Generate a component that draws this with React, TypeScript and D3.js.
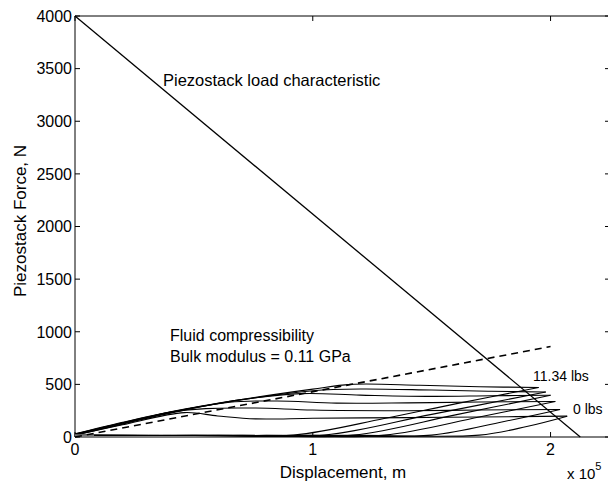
import React from "react";
import * as d3 from "d3";

// ---- data ----
const xTicks = [0, 1, 2];
const yTicks = [0, 500, 1000, 1500, 2000, 2500, 3000, 3500, 4000];

// piezostack load characteristic (straight line)
const loadX = [0, 2.125];
const loadF = [4000, 0];

// fluid compressibility (dashed line)
const fluidX = [0, 2.0];
const fluidF = [0, 860];

// upper (loading) branches of the measured loops: [displacement (x1e-5 m), force N]
const upper1 = [[0, 30], [0.2, 140], [0.44, 257], [0.76, 377], [1.0, 455], [1.16, 500], [1.45, 492], [1.7, 478], [1.95, 470]];
const upper2 = [[0, 28], [0.2, 136], [0.44, 253], [0.76, 373], [1.0, 440], [1.2, 456], [1.5, 446], [1.75, 434], [1.98, 428]];
const upper3 = [[0, 26], [0.2, 132], [0.44, 250], [0.7, 355], [0.95, 412], [1.2, 398], [1.5, 386], [1.75, 392], [2.0, 396]];
const upper4 = [[0, 22], [0.2, 126], [0.44, 246], [0.65, 330], [0.85, 342], [1.1, 322], [1.4, 324], [1.7, 332], [2.02, 338]];
const upper5 = [[0, 20], [0.2, 122], [0.4, 236], [0.55, 270], [0.76, 275], [1.0, 256], [1.4, 250], [1.7, 256], [2.04, 262]];
const upper6 = [[0, 16], [0.2, 116], [0.46, 232], [0.6, 200], [0.76, 172], [1.0, 178], [1.4, 184], [1.7, 190], [2.07, 198]];

// lower (unloading) branches
const lower1 = [[0, 15], [0.5, 15], [0.92, 18], [1.3, 175], [1.6, 315], [1.95, 470]];
const lower2 = [[0, 15], [0.6, 15], [1.05, 18], [1.5, 215], [1.98, 428]];
const lower3 = [[0, 15], [0.7, 15], [1.17, 18], [1.6, 210], [2.0, 396]];
const lower4 = [[0, 15], [0.8, 15], [1.3, 18], [1.7, 190], [2.02, 338]];
const lower5 = [[0, 15], [1.0, 15], [1.5, 18], [1.8, 145], [2.04, 262]];
const lower6 = [[0, 15], [1.2, 15], [1.7, 18], [1.9, 100], [2.07, 198]];

const loops = [upper1, upper2, upper3, upper4, upper5, upper6, lower1, lower2, lower3, lower4, lower5, lower6];

const W = 608;
const H = 486;
const left = 75;
const right = 610;
const top = 16;
const bottom = 437;

export default function App() {
  const x = d3.scaleLinear().domain([0, 2.25]).range([left, right]);
  const y = d3.scaleLinear().domain([0, 4000]).range([bottom, top]);
  const curve = d3
    .line<number[]>()
    .x((d) => x(d[0]))
    .y((d) => y(d[1]))
    .curve(d3.curveCatmullRom.alpha(0.5));
  const straight = d3
    .line<number[]>()
    .x((d) => x(d[0]))
    .y((d) => y(d[1]));

  const loadPts = loadX.map((v, i) => [v, loadF[i]]);
  const fluidPts = fluidX.map((v, i) => [v, fluidF[i]]);
  const font = "Liberation Sans, Arial, Helvetica, sans-serif";

  return (
    <svg
      width={W}
      height={H}
      style={{ position: "absolute", left: 0, top: 0, background: "#fff" }}
      fontFamily={font}
      fill="#000"
    >
      <rect x={0} y={0} width={W} height={H} fill="#fff" />
      {/* frame */}
      <line x1={left} y1={top} x2={left} y2={bottom} stroke="#000" strokeWidth={1} />
      <line x1={left} y1={bottom} x2={right} y2={bottom} stroke="#000" strokeWidth={1} />
      <line x1={left} y1={top} x2={right} y2={top} stroke="#000" strokeWidth={1} />
      <line x1={right} y1={top} x2={right} y2={bottom} stroke="#000" strokeWidth={1} />

      {/* y ticks */}
      {yTicks.map((t) => (
        <g key={"y" + t}>
          <line x1={left} x2={left + 5} y1={y(t)} y2={y(t)} stroke="#000" />
          <line x1={right} x2={right - 5} y1={y(t)} y2={y(t)} stroke="#000" />
          <text x={left - 3} y={y(t)} dy="0.36em" textAnchor="end" fontSize={16} fill="#000">
            {t}
          </text>
        </g>
      ))}
      {/* x ticks */}
      {xTicks.map((t) => (
        <g key={"x" + t}>
          <line x1={x(t)} x2={x(t)} y1={bottom} y2={bottom - 5} stroke="#000" />
          <line x1={x(t)} x2={x(t)} y1={top} y2={top + 5} stroke="#000" />
          <text x={x(t)} y={bottom + 18} textAnchor="middle" fontSize={16} fill="#000">
            {t}
          </text>
        </g>
      ))}

      {/* loops */}
      {loops.map((pts, i) => (
        <path key={"l" + i} d={curve(pts as number[][]) || ""} fill="none" stroke="#000" strokeWidth={1.1} />
      ))}

      {/* small grey segment near origin */}
      <line x1={x(0)} x2={x(0.08)} y1={bottom - 1.5} y2={bottom - 1.5} stroke="#777" strokeWidth={2.5} />

      {/* fluid compressibility */}
      <path d={straight(fluidPts) || ""} fill="none" stroke="#000" strokeWidth={1.6} strokeDasharray="7,5" />
      {/* load characteristic */}
      <path d={straight(loadPts) || ""} fill="none" stroke="#000" strokeWidth={1.3} />

      {/* annotations */}
      <text x={163} y={86} fontSize={16.5} fill="#000">Piezostack load characteristic</text>
      <text x={170} y={341} fontSize={16} fill="#000">Fluid compressibility</text>
      <text x={170} y={362} fontSize={16} fill="#000">Bulk modulus = 0.11 GPa</text>
      <text x={533} y={381} fontSize={14} fill="#000">11.34 lbs</text>
      <text x={573} y={414} fontSize={14} fill="#000">0 lbs</text>

      {/* axis labels */}
      <text x={343} y={478} textAnchor="middle" fontSize={17} fill="#000">Displacement, m</text>
      <text x={567} y={479} fontSize={15} fill="#000">
        x 10
        <tspan dy={-9} fontSize={11}>5</tspan>
      </text>
      <text transform={`translate(26,221) rotate(-90)`} textAnchor="middle" fontSize={17} fill="#000">
        Piezostack Force, N
      </text>
    </svg>
  );
}
